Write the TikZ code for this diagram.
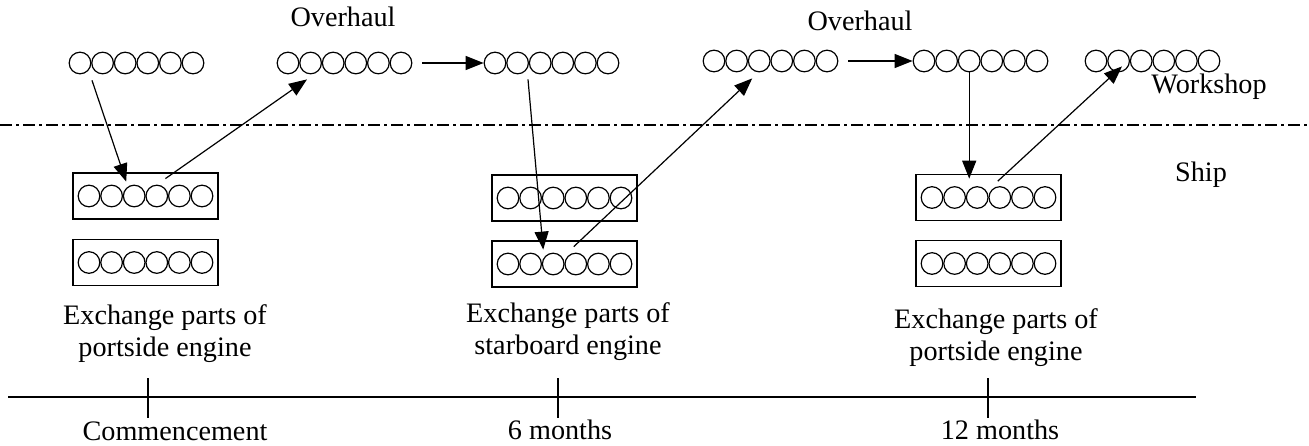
\documentclass[tikz,border=0pt]{standalone}
\usepackage{fontspec}
\setmainfont{Liberation Serif}
\usetikzlibrary{arrows.meta,calc}
% a row of six exchange parts, centred at (#2,#3), named #1-1 ... #1-6
\newcommand\partrow[3]{%
  \foreach \i in {1,...,6}
    \node[part] (#1-\i) at ({#2+(\i-3.5)*22.6},#3) {};%
}
\begin{document}
\begin{tikzpicture}[x=0.5pt,y=-0.5pt,
  part/.style={circle,draw,line width=0.6pt,minimum size=10.8pt,inner sep=0pt},
  engine/.style={draw,line width=0.8pt,minimum width=72.5pt,minimum height=23pt,inner sep=0pt},
  arr/.style={-{Triangle[length=9pt,width=7pt]},line width=0.6pt},
  lbl/.style={font=\fontsize{14.1}{16}\selectfont,inner sep=0pt,align=center}]
\useasboundingbox (0,0) rectangle (1309,445);

% workshop rows
\partrow{r1}{136.5}{63}
\partrow{r2}{344.5}{63}
\partrow{r3}{551.5}{63}
\partrow{r4}{770.5}{61}
\partrow{r5}{980.5}{61}
\partrow{r6}{1152.5}{61}

% ship engines
\node[engine] (s1) at (145.5,196) {};
\node[engine] (s2) at (145.5,262.5) {};
\node[engine] (s3) at (564.5,198) {};
\node[engine] (s4) at (564.5,264) {};
\node[engine] (s5) at (988.5,197.5) {};
\node[engine] (s6) at (988.5,263.5) {};
\partrow{b1}{145.5}{196}
\partrow{b2}{145.5}{262.5}
\partrow{b3}{564.5}{198}
\partrow{b4}{564.5}{264}
\partrow{b5}{988.5}{197.5}
\partrow{b6}{988.5}{263.5}

% boundary between workshop and ship
\draw[line width=0.6pt,dash pattern=on 6pt off 2pt on 1.5pt off 2pt] (0,125) -- (1309,125);

% labels
\node[lbl] (oh1) at (343,17) {Overhaul};
\node[lbl] (oh2) at (860,21) {Overhaul};
\node[lbl] (ws) at (1209,87) {Workshop};
\node[lbl] (sh) at (1201,175) {Ship};
\node[lbl] (x1) at (165,334) {Exchange parts of\\portside engine};
\node[lbl] (x2) at (568,332) {Exchange parts of\\starboard engine};
\node[lbl] (x3) at (996,338) {Exchange parts of\\portside engine};

% flow of parts
\draw[arr] ($(r1-2.south)+(-10.6,6)$) -- ($(b1-3.north)+(-8,-3)$);
\draw[arr] ($(b1-5.north)+(-14,-6)$) -- ($(r2-2.south)+(-3.6,5)$);
\draw[arr,shorten <=5pt] (r2-6.east) -- (r3-1.west);
\draw[arr] ($(r3-2.south)+(10.4,5)$) -- ($(b4-3.north)+(-10,-3)$);
\draw[arr] ($(b4-4.north)+(-2,-6)$) -- ($(r4-3.south)+(-7,6)$);
\draw[arr,shorten <=5pt] (r4-6.east) -- (r5-1.west);
\draw[arr] (r5-3.south) -- ($(r5-3.south |- s5.north)+(0,5)$);
\draw[arr] ($(b5-4.north)+(-2,-5)$) -- ($(r6-2.south)+(3.4,-6)$);

% time axis
\coordinate (t0) at (148,397);
\coordinate (t6) at (558,397);
\coordinate (t12) at (988,397);
\draw[line width=0.9pt] (8,397) -- (1196,397);
\foreach \t in {t0,t6,t12}
  \draw[line width=0.6pt] ($(\t)+(0,-19)$) -- ($(\t)+(0,21)$);
\node[lbl] (m0) at (175,431) {Commencement};
\node[lbl] (m6) at (560,430) {6 months};
\node[lbl] (m12) at (1000,430) {12 months};
\end{tikzpicture}
\end{document}
